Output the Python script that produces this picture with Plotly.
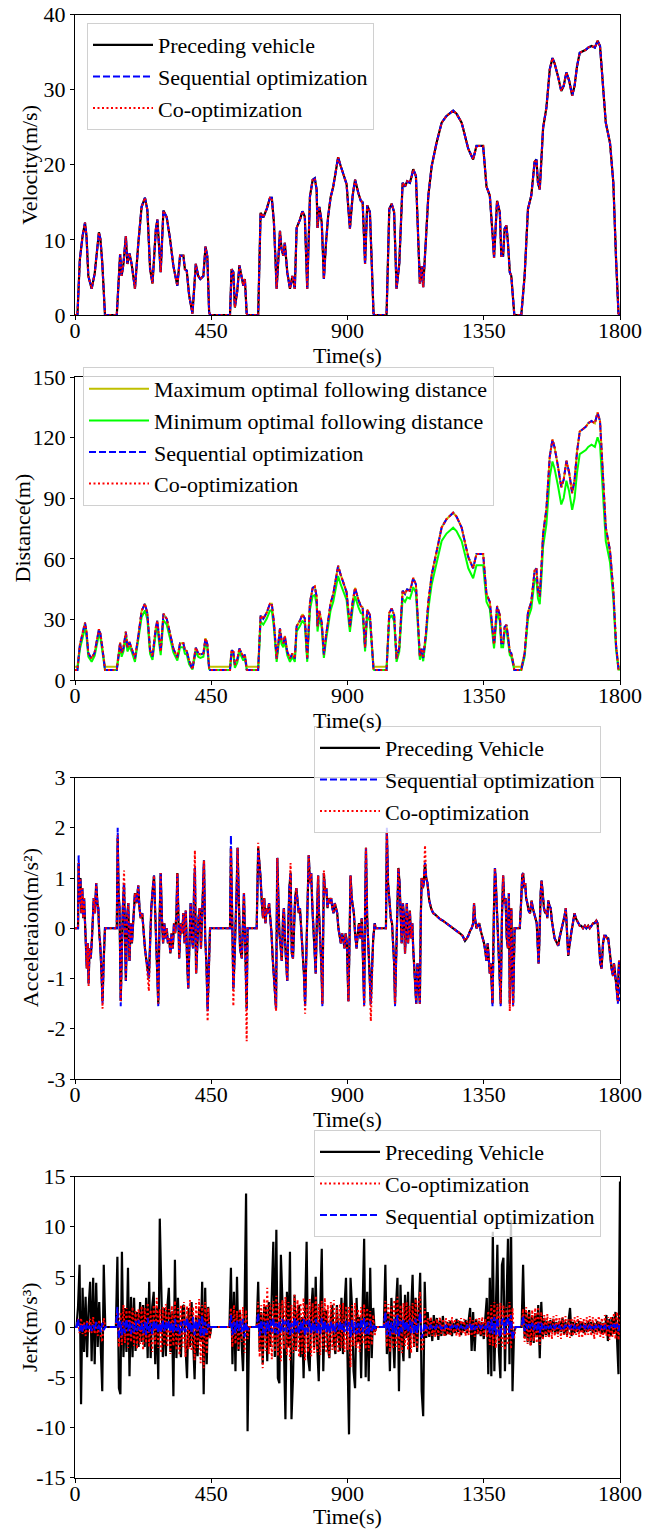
import plotly.graph_objects as go

FONT = "Liberation Serif"

# ---------------- Velocity / distance (shared time samples) ----------------
T_VEL = [0, 8, 16, 25, 33, 38, 44, 55, 65, 79,
         84, 90, 99, 138, 149, 154, 160, 168, 173, 180,
         187, 198, 209, 220, 231, 239, 248, 256, 267, 272,
         277, 283, 292, 303, 314, 325, 338, 347, 358, 363,
         369, 377, 388, 399, 407, 414, 424, 431, 437, 443,
         446, 512, 517, 523, 528, 536, 543, 551, 556, 561,
         567, 570, 605, 613, 622, 633, 644, 650, 657, 666,
         677, 682, 688, 693, 701, 710, 718, 726, 732, 743,
         751, 759, 767, 776, 785, 792, 798, 801, 807, 815,
         822, 829, 836, 844, 853, 860, 869, 877, 886, 897,
         906, 908, 917, 925, 936, 944, 950, 958, 965, 974,
         986, 988, 1029, 1038, 1046, 1054, 1062, 1071, 1082, 1090,
         1097, 1106, 1112, 1117, 1126, 1134, 1139, 1145, 1150, 1159,
         1167, 1178, 1194, 1211, 1227, 1249, 1260, 1277, 1288, 1299,
         1315, 1326, 1337, 1348, 1359, 1370, 1381, 1384, 1394, 1403,
         1408, 1414, 1419, 1425, 1430, 1436, 1441, 1449, 1451, 1474,
         1485, 1496, 1507, 1518, 1524, 1529, 1535, 1540, 1546, 1557,
         1568, 1577, 1584, 1595, 1606, 1614, 1623, 1632, 1642, 1650,
         1658, 1667, 1678, 1687, 1695, 1706, 1717, 1726, 1734, 1745,
         1753, 1767, 1778, 1787, 1795, 1800]

V_PRE = [0, 0, 7.4, 10.5, 12.3, 10.5, 5.2, 3.5, 5.5, 11.0,
         10.1, 7.0, 0, 0, 8.1, 5.2, 6.8, 10.5, 6.8, 8.2,
         6.8, 3.5, 9.5, 14.4, 15.6, 14.0, 6.1, 4.2, 11.4, 12.7,
         9.6, 5.7, 13.9, 13.0, 10.1, 6.5, 3.9, 7.9, 7.9, 6.1,
         5.9, 2.6, 0.2, 6.8, 5.2, 4.8, 5.2, 9.1, 7.8, 0.4,
         0, 0, 6.1, 5.7, 1.0, 3.2, 6.6, 5.2, 3.9, 4.8,
         0.2, 0, 0, 13.6, 13.0, 14.1, 15.6, 15.6, 12.3, 3.5,
         11.2, 8.8, 7.9, 9.6, 5.7, 3.5, 5.2, 3.5, 11.6, 12.7,
         13.8, 13.1, 3.5, 15.8, 18.0, 18.2, 16.7, 11.6, 14.4, 12.3,
         4.8, 9.6, 13.1, 15.6, 17.1, 18.8, 21.0, 19.9, 18.8, 17.4,
         12.5, 11.5, 15.9, 18.0, 16.2, 15.2, 15.0, 6.8, 14.6, 13.7,
         0.2, 0, 0, 14.1, 14.8, 13.7, 3.5, 6.8, 17.6, 17.1,
         17.8, 17.6, 18.5, 19.4, 18.5, 9.6, 4.2, 6.5, 3.7, 10.1,
         15.9, 19.8, 22.9, 25.6, 26.5, 27.2, 26.8, 25.6, 23.9, 22.1,
         20.7, 22.5, 22.5, 22.5, 17.1, 15.9, 9.6, 7.6, 15.2, 13.7,
         7.9, 7.9, 11.5, 11.9, 9.6, 5.7, 5.2, 0.2, 0, 0,
         5.2, 14.1, 15.9, 20.4, 20.7, 17.6, 16.7, 20.4, 24.9, 27.6,
         32.7, 34.2, 33.5, 31.8, 29.8, 30.5, 32.3, 31.2, 29.2, 30.5,
         33.1, 34.9, 35.1, 35.3, 35.6, 35.8, 35.6, 36.5, 35.8, 30.5,
         25.6, 22.9, 17.6, 7.4, 0.2, 0]
# the two follower speed traces are read as coincident with the leader trace
V_SEQ = V_PRE
V_CO = V_PRE

D_MAX = [6.5, 6.5, 17.2, 23.9, 28.4, 23.9, 13.2, 10.6, 13.7, 25.1,
         22.9, 16.4, 6.5, 6.5, 18.5, 13.2, 16.0, 23.9, 16.0, 18.8,
         16.0, 10.6, 21.6, 34.2, 37.8, 33.0, 14.7, 11.6, 26.1, 29.4,
         21.8, 14.0, 32.8, 30.3, 22.9, 15.5, 11.2, 18.2, 18.2, 14.7,
         14.4, 9.4, 6.7, 16.0, 13.2, 12.6, 13.2, 20.7, 17.9, 6.9,
         6.5, 6.5, 14.7, 14.0, 7.5, 10.2, 15.6, 13.2, 11.2, 12.6,
         6.7, 6.5, 6.5, 31.9, 30.3, 33.3, 37.8, 37.8, 28.4, 10.6,
         25.6, 20.0, 18.2, 21.8, 14.0, 10.6, 13.2, 10.6, 26.6, 29.4,
         32.5, 30.5, 10.6, 38.4, 45.6, 46.3, 41.3, 26.6, 34.2, 28.4,
         12.6, 21.8, 30.5, 37.8, 42.6, 48.4, 56.5, 52.3, 48.4, 43.5,
         28.9, 26.3, 38.7, 45.6, 39.7, 36.6, 36.0, 16.0, 34.8, 32.2,
         6.7, 6.5, 6.5, 33.3, 35.4, 32.2, 10.6, 16.0, 44.2, 42.6,
         44.9, 44.2, 47.3, 50.5, 47.3, 21.8, 11.6, 15.5, 10.9, 22.9,
         38.7, 52.0, 64.0, 75.5, 79.6, 82.8, 80.9, 75.5, 68.1, 60.8,
         55.3, 62.4, 62.4, 62.4, 42.6, 38.7, 21.8, 17.6, 36.6, 32.2,
         18.2, 18.2, 26.3, 27.3, 21.8, 14.0, 13.2, 6.7, 6.5, 6.5,
         13.2, 33.3, 38.7, 54.2, 55.3, 44.2, 41.3, 54.2, 72.4, 84.7,
         110.7, 119.0, 115.1, 105.9, 95.5, 99.1, 108.5, 102.7, 92.5, 99.1,
         112.9, 123.0, 124.2, 125.3, 127.1, 128.2, 127.1, 132.4, 128.2, 99.1,
         75.5, 64.0, 44.2, 17.2, 6.7, 6.5]

D_MIN = [5, 5, 15.2, 21.5, 25.7, 21.5, 11.5, 9.0, 12.0, 22.6,
         20.6, 14.5, 5, 5, 16.5, 11.5, 14.1, 21.5, 14.1, 16.7,
         14.1, 9.0, 19.3, 31.0, 34.4, 30.0, 13.0, 10.0, 23.5, 26.7,
         19.5, 12.3, 29.7, 27.4, 20.6, 13.6, 9.6, 16.2, 16.2, 13.0,
         12.6, 7.8, 5.2, 14.1, 11.5, 10.9, 11.5, 18.5, 15.9, 5.4,
         5, 5, 13.0, 12.3, 6.0, 8.6, 13.8, 11.5, 9.6, 10.9,
         5.2, 5, 5, 28.9, 27.4, 30.3, 34.4, 34.4, 25.7, 9.0,
         23.1, 17.9, 16.2, 19.5, 12.3, 9.0, 11.5, 9.0, 24.0, 26.7,
         29.4, 27.6, 9.0, 34.9, 41.5, 42.1, 37.5, 24.0, 31.0, 25.7,
         10.9, 19.5, 27.6, 34.4, 38.7, 44.0, 51.4, 47.6, 44.0, 39.6,
         26.2, 23.8, 35.2, 41.5, 36.1, 33.2, 32.7, 14.1, 31.6, 29.2,
         5.2, 5, 5, 30.3, 32.1, 29.2, 9.0, 14.1, 40.3, 38.7,
         40.9, 40.3, 43.1, 46.0, 43.1, 19.5, 10.0, 13.6, 9.3, 20.6,
         35.2, 47.3, 58.3, 68.8, 72.5, 75.4, 73.7, 68.8, 62.1, 55.3,
         50.4, 56.8, 56.8, 56.8, 38.7, 35.2, 19.5, 15.6, 33.2, 29.2,
         16.2, 16.2, 23.8, 24.7, 19.5, 12.3, 11.5, 5.2, 5, 5,
         11.5, 30.3, 35.2, 49.4, 50.4, 40.3, 37.5, 49.4, 66.0, 77.1,
         100.6, 108.2, 104.6, 96.3, 86.9, 90.1, 98.7, 93.4, 84.2, 90.1,
         102.6, 111.8, 112.8, 113.8, 115.4, 116.5, 115.4, 120.2, 116.5, 90.1,
         68.8, 58.3, 40.3, 15.2, 5.2, 5]

# follower gap equals the maximum optimal distance except at standstill
D_FOLLOW_STOPS = {0: 5, 8: 5, 99: 5, 138: 5, 388: 5.2, 443: 5.4, 446: 5, 512: 5,
                  567: 5.2, 570: 5, 605: 5, 986: 5.2, 988: 5, 1029: 5, 1449: 5.2,
                  1451: 5, 1474: 5, 1795: 5.2, 1800: 5}

# ---------------- Acceleration (time, value) ----------------
ACC_PRE = [(0,0),(10,0),(12,1.3),(15,0.5),(18,1.0),(21,0.3),(24,0.8),(27,0.2),(30,0.6),(33,0.0),
 (36,-0.5),(39,-0.8),(42,-0.3),(45,-1.1),(48,-0.4),(52,-0.6),(56,-0.2),(59,0.2),(62,0.6),(66,0.3),
 (70,0.9),(74,0.5),(77,0.4),(80,-0.1),(83,-0.3),(87,-0.8),(91,-1.45),(95,-0.6),(99,0),(138,0),
 (141,1.8),(144,0.7),(147,0.4),(151,-1.45),(155,0.1),(158,0.4),(162,0.9),(165,-0.3),(168,-1.05),(172,0.2),
 (176,0.5),(180,-0.65),(184,0.1),(188,-0.3),(192,0.2),(198,0.7),(203,0.5),(209,0.85),(213,0.4),(217,0.2),
 (222,0.3),(226,-0.1),(231,-0.4),(235,-0.6),(240,-0.9),(244,-1.0),(248,-0.3),(252,0.4),(257,0.8),(261,1.05),
 (265,0.3),(270,-0.6),(275,-1.5),(279,0.1),(283,1.1),(287,0.2),(291,-0.3),(295,0.1),(299,-0.2),(303,0.0),
 (307,-0.3),(311,-0.2),(315,-0.5),(319,-0.1),(323,-0.4),(327,0.1),(331,-0.1),(335,0.3),(338,1.1),(341,0.4),
 (344,-0.6),(347,-0.2),(350,0.1),(354,-0.1),(358,0.3),(362,-0.3),(366,0.35),(370,-0.6),(374,-1.2),(378,-0.3),
 (382,0.5),(386,-0.2),(390,-0.4),(393,0.7),(396,1.2),(400,-0.9),(404,-0.3),(408,0.2),(412,0.4),(416,-0.4),
 (420,0.3),(423,0.8),(426,1.35),(430,-0.2),(434,-0.7),(438,-1.6),(442,-0.8),(446,0),(512,0),(515,1.6),
 (519,0.3),(523,-1.2),(527,-0.6),(531,0.1),(534,0.8),(537,1.6),(541,0.3),(545,-0.4),(551,-0.6),(555,0.2),
 (558,0.7),(562,-0.3),(567,-1.6),(570,0),(600,0),(605,1.6),(609,1.3),(613,1.0),(617,0.5),(621,0.2),
 (625,0.6),(629,0.1),(633,0.4),(637,0.3),(641,0.5),(645,0.2),(649,-0.1),(653,-0.6),(657,-1.05),(661,-1.4),
 (664,-1.6),(668,1.4),(672,0.6),(675,-0.1),(679,-0.35),(683,-0.65),(687,0.2),(690,0.4),(694,-0.3),(697,-0.7),
 (701,-1.05),(705,0.2),(708,0.8),(712,1.1),(716,-0.5),(720,-0.6),(724,0.3),(727,0.6),(731,0.8),(735,0.5),
 (739,0.3),(743,0.4),(747,0.0),(752,-0.4),(756,-0.9),(760,-1.5),(764,-0.3),(768,0.5),(772,1.45),(776,0.9),
 (780,1.1),(784,0.4),(787,0.1),(791,-0.3),(795,-0.9),(799,0.2),(803,1.05),(806,0.3),(810,-0.2),(814,-0.8),
 (817,-1.5),(820,0.2),(822,1.1),(826,0.7),(830,0.8),(834,0.4),(838,0.6),(842,0.5),(846,0.6),(850,0.4),
 (854,0.3),(858,0.5),(862,0.4),(866,0.3),(870,0.0),(874,-0.2),(878,-0.3),(882,-0.1),(886,-0.2),(890,-0.4),
 (894,-0.1),(898,-0.3),(903,-1.45),(906,-0.5),(910,1.05),(914,0.6),(917,0.5),(921,0.3),(925,-0.1),(930,-0.4),
 (934,-0.1),(938,0.1),(943,-0.2),(947,0.2),(951,-0.6),(955,-1.5),(958,0.3),(961,1.6),(965,0.2),(969,-0.3),
 (973,-0.9),(977,-1.5),(981,-0.8),(985,-0.2),(990,0.1),(993,0),(1027,0),(1030,1.9),(1034,0.9),(1038,0.6),
 (1043,0.2),(1047,0.1),(1051,-0.3),(1054,-0.7),(1057,-1.5),(1061,-0.6),(1064,0.4),(1068,1.2),(1072,0.9),(1075,0.3),
 (1079,-0.3),(1083,0.5),(1087,0.2),(1090,-0.5),(1093,0.1),(1096,0.5),(1100,-0.3),(1103,0.2),(1106,0.35),(1110,-0.2),
 (1114,0.1),(1117,-0.4),(1120,-0.7),(1124,-1.0),(1127,-1.5),(1131,-0.7),(1134,-1.0),(1139,-1.5),(1142,0.2),(1145,1.0),
 (1149,0.8),(1152,0.9),(1156,1.3),(1160,1.0),(1164,0.9),(1170,0.55),(1176,0.4),(1183,0.3),(1190,0.27),(1198,0.22),
 (1206,0.18),(1215,0.15),(1227,0.1),(1238,0.05),(1249,0.0),(1260,-0.05),(1271,-0.1),(1280,-0.15),(1288,-0.25),(1294,-0.2),
 (1299,-0.15),(1305,-0.05),(1310,0.0),(1315,0.1),(1318,0.5),(1321,0.2),(1326,0.0),(1330,0.05),(1335,0.1),(1340,-0.05),
 (1345,-0.15),(1351,-0.3),(1355,-0.45),(1359,-0.65),(1363,-0.3),(1366,-0.5),(1370,-0.9),(1373,-0.7),(1376,-1.0),(1379,-1.5),
 (1383,0.2),(1387,1.2),(1390,0.9),(1392,0.6),(1396,-0.2),(1400,-0.6),(1403,-1.0),(1406,-1.5),(1410,0.2),(1414,1.05),
 (1418,0.5),(1422,0.6),(1426,-0.2),(1430,-0.4),(1433,0.7),(1436,-1.5),(1439,-0.3),(1441,0.4),(1444,-0.7),(1447,-1.5),
 (1452,0),(1469,0),(1474,0.6),(1477,1.05),(1480,1.1),(1484,0.8),(1487,0.9),(1490,0.6),(1494,0.5),(1498,0.35),
 (1503,0.3),(1508,0.55),(1512,0.4),(1516,0.3),(1520,0.2),(1525,0.1),(1528,-0.3),(1531,-0.7),(1533,-0.4),(1535,0.4),
 (1538,0.7),(1541,0.95),(1545,0.6),(1549,0.4),(1553,0.3),(1557,0.35),(1560,0.2),(1563,0.55),(1567,0.45),(1571,0.4),
 (1575,0.15),(1580,-0.1),(1584,-0.2),(1588,-0.25),(1592,-0.3),(1596,-0.35),(1600,-0.2),(1604,-0.1),(1608,0.05),(1613,0.15),
 (1617,0.25),(1621,0.4),(1625,-0.1),(1629,-0.55),(1632,-0.4),(1636,-0.15),(1640,-0.05),(1643,0.05),(1647,0.2),(1650,0.3),
 (1654,0.2),(1658,0.15),(1663,0.1),(1667,0.05),(1672,0.05),(1678,0.0),(1684,0.05),(1689,0.0),(1695,0.05),(1700,0.0),
 (1706,0.05),(1711,0.1),(1716,0.1),(1722,0.15),(1726,0.1),(1729,-0.2),(1731,-0.5),(1735,-0.7),(1739,-0.8),(1742,-0.5),
 (1744,-0.3),(1748,-0.15),(1753,-0.15),(1757,-0.2),(1761,-0.2),(1765,-0.4),(1768,-0.65),(1772,-0.8),(1777,-0.95),(1780,-0.7),
 (1782,-0.8),(1785,-1.0),(1788,-1.2),(1791,-1.35),(1793,-1.45),(1795,-0.9),(1797,-0.65),(1800,-0.7)]

# followers track the leader except where their peaks were read differently
ACC_SEQ_PEAKS = {12: 1.45, 91: -1.5, 141: 2.0, 151: -1.55, 275: -1.55, 438: -1.65, 515: 1.85,
                 605: 1.55, 664: -1.6, 760: -1.55, 817: -1.55, 955: -1.55, 1030: 2.0, 1057: -1.55,
                 1379: -1.55, 1406: -1.55, 1447: -1.55, 1793: -1.5, 1800: -1.45}
ACC_CO_PEAKS = {45: -1.15, 91: -1.6, 141: 1.85, 162: 1.15, 244: -1.25, 396: 1.55, 438: -1.85,
                523: -1.55, 567: -2.25, 605: 1.7, 664: -1.65, 712: 1.3, 760: -1.7, 822: 1.15,
                955: -1.55, 977: -1.85, 1030: 1.9, 1156: 1.65, 1436: -1.65, 1447: -1.55}

# ---------------- Jerk (one value every 5 s, 0..1800 s) ----------------
J_PRE = [0, 0, 2, 6.2, -7.7, 3.9, -2.5, 3.0, -3.0, 2.0, 4.5, -3.4, 4.9, -3.7, 4.4, -2.0, 2.5, -3.0, -6.4, 6.2,
         0, 0, 0, 0, 0, 0, 0, 0, 7.0, -6.1, -6.7, 7.5, -3.0, 1.9, -2.5, 5.9, -4.9, 3.0, -3.0, 2.9,
         -2.4, 1.5, -2.0, 2.5, -1.5, 2.2, -2.0, 2.9, -3.1, 4.5, -3.1, 2.0, 3.5, -3.7, 2.0, -5.2, 10.8, 4.0, -3.0, 1.9,
         -2.9, 2.0, 3.9, -2.5, 1.5, -6.9, 6.7, -3.1, 2.9, -1.5, -3.0, 2.0, 2.2, -2.0, -5.1, 1.9, -2.0, 2.5, -1.0, -5.2,
         1.0, -2.9, 2.0, -1.5, 4.5, -6.7, 3.9, -3.7, 2.0, -1.0, 0, 0, 0, 0, 0, 0, 0, 0, 0, 0,
         0, 0, 0, 5.9, -3.7, 3.5, -4.4, 5.0, -2.4, 1.5, -2.0, -4.4, 2.0, 13.3, -10.4, 0, 0, 0, 0, 0,
         0, 4.5, -2.4, 1.5, -3.7, 2.0, 1.9, -3.4, 2.5, -2.0, 3.0, 8.5, -3.0, 9.7, -5.1, -5.6, 7.2, 3.5, -2.0, -9.2,
         3.5, -2.0, 7.5, -9.2, -5.1, 3.2, -2.4, 1.5, 2.2, -3.0, 1.0, -5.1, 2.5, 8.5, -3.1, -4.4, 1.5, 3.9, -2.0, 5.0,
         -2.0, -5.4, 2.0, 7.8, -4.4, 1.5, 1.6, -2.0, -3.1, 1.0, 2.2, -1.5, -2.7, 2.2, -1.0, -2.4, 2.9, -2.7, 2.0, 4.9,
         -3.0, -10.7, 4.9, 2.0, -4.4, -6.1, 2.9, -1.5, 1.0, -5.1, 2.2, 8.8, -5.0, 3.5, -5.4, 5.9, -3.1, 1.9, -0.5, 0,
         0, 0, 0, 0, 0, 6.2, -2.7, 1.5, -4.4, 2.9, -1.5, -4.1, 2.0, 4.9, -6.4, 4.2, -1.5, -3.4, 3.2, -1.1,
         3.5, -3.1, 1.5, 5.2, -2.0, 2.9, -2.5, 1.0, 5.4, -6.4, -8.9, 4.5, -1.1, 1.5, -1.0, 0.8, -1.4, 1.2, -0.8, 0.9,
         -1.3, 0.7, -0.9, 1.1, -0.6, -0.8, 0.5, -0.7, 0.6, -0.9, 0.4, -0.6, 0.8, -0.5, 0.6, -0.8, 0.5, -0.4, 0.7, -0.6,
         0.9, 1.9, -2.4, 1.5, -2.4, 0.8, -0.7, 0.6, -0.9, 0.5, -1.2, 1.0, 2.9, -4.7, 4.9, -4.9, 9.5, -4.4, 2.5, 8.2,
         -2.4, -5.1, 6.2, 6.9, -4.4, 3.2, 8.8, -3.7, 10.7, -6.4, -0.5, 0, 0, 0, 0, 0, 6.2, -1.1, 1.5, -1.5,
         1.7, -1.8, 1.2, -1.6, 1.4, -1.0, 2.2, -3.1, 2.5, -1.1, 0.9, -0.8, 0.6, -0.9, 0.7, -0.5, 0.8, -0.6, 0.5, -0.7,
         0.6, -0.5, 0.9, -0.7, 0.5, -0.8, 0.6, 1.9, -0.9, 0.5, -0.6, 0.4, -0.5, 0.6, -0.4, 0.5, -0.6, 0.4, -0.5, 0.6,
         -0.4, 0.5, -0.6, 0.4, -0.5, 0.6, -0.4, 0.5, -0.7, 0.4, -0.6, 1.2, -1.4, 0.8, -0.9, 1.0, -0.7, 1.5, -1.1, -4.7,
         14.5]

J_CO = [0, 0, 0.8, -0.6, 0.9, -0.7, 0.5, -0.9, 0.7, -0.5, 0.8, -0.6, 1.0, -0.7, 0.6, -0.9, 0.7, -0.8, -1.5, 0.9,
        0, 0, 0, 0, 0, 0, 0, 0, 1.8, -2.0, 1.5, -1.8, 2.2, -1.6, 1.9, -2.1, 1.7, -1.5, 2.0, -1.9,
        1.6, -2.2, 1.8, -1.7, 2.1, -2.3, 1.9, -1.6, 2.4, -2.0, 1.7, -2.5, 2.2, -1.8, 2.9, -2.1, 1.8, -2.6, 2.0, -1.9,
        2.3, -2.0, 1.8, -2.7, 2.1, -1.9, 2.6, -2.3, 1.9, -2.8, 2.2, -2.0, 2.5, -3.0, 2.1, -2.2, 2.7, -2.4, 2.0, -3.3,
        2.4, -2.1, 2.8, -3.6, 2.2, -4.1, 2.5, -2.7, 1.9, -1.2, 0, 0, 0, 0, 0, 0, 0, 0, 0, 0,
        0, 0, 0, 1.9, -2.0, 2.2, -1.7, 1.6, -2.3, 1.8, -1.5, 2.0, -2.6, 1.7, -1.2, 0, 0, 0, 0, 0,
        0, 2.5, -3.0, 2.2, -4.1, 2.8, -2.4, 3.9, -2.7, 2.3, -3.2, 2.6, -2.5, 3.1, -2.9, 2.4, -3.4, 2.7, -2.2, 3.0,
        -2.8, 2.5, -3.3, 2.2, -2.6, 3.2, -2.4, 2.7, -3.0, 2.4, -2.7, 2.9, -3.3, 2.3, -2.5, 2.8, -2.9, 2.4, -2.6, 3.1,
        -2.5, 2.3, -2.8, 2.6, -2.2, 2.9, -2.6, 2.2, -3.0, 2.5, -2.3, 2.7, -2.4, 2.0, -2.6, 2.3, -2.1, 2.4, -2.5, 2.1,
        -2.3, 2.0, -4.0, 2.2, -1.9, 2.4, -2.1, 1.8, -2.5, 2.0, -1.7, 2.3, -2.2, 1.9, -2.4, 1.6, -1.8, 1.2, -0.8, 0,
        0, 0, 0, 0, 0, 2.6, -2.0, 2.3, -2.5, 2.1, -2.2, 2.7, -2.0, 3.0, -2.4, 2.2, -2.6, 2.4, -1.9, 2.5,
        -2.3, 2.1, -2.6, 2.4, -2.0, 2.8, -2.2, 2.5, 3.5, -2.4, -2.1, 1.9, -1.0, 0.9, -0.8, 1.0, -0.9, 0.7, -1.0, 0.8,
        -0.9, 1.0, -0.7, 0.8, -1.0, 0.9, -0.8, 0.7, -0.9, 1.0, -0.6, 0.8, -0.9, 0.7, -1.0, 0.9, -0.7, 0.8, -0.9, 0.6,
        -0.8, 1.0, -0.9, 0.7, -1.0, 0.8, -0.7, 0.9, -0.8, 1.0, -0.9, 0.8, -1.0, 1.6, -1.8, 2.2, -1.9, 2.5, -2.1, 2.3,
        -1.7, 2.4, -2.0, 2.2, -2.3, 2.0, -1.8, 2.5, -2.2, 1.9, -1.2, 0, 0, 0, 0, 0, 1.8, -1.5, 2.0, -1.7,
        1.6, -1.9, 1.7, -1.4, 1.9, -1.6, 2.0, -1.8, 1.5, -1.3, 1.2, -1.0, 1.3, -1.1, 0.9, -1.2, 1.1, -0.9, 1.2, -1.0,
        0.9, -1.2, 1.0, -0.8, 1.1, -1.0, 0.8, -1.1, 0.9, -0.9, 1.0, -0.8, 1.1, -1.0, 0.9, -1.1, 0.8, -0.9, 1.0, -0.8,
        1.1, -0.9, 1.0, -1.2, 0.9, -0.8, 1.1, -1.0, 0.9, -1.1, 1.2, -0.9, 1.0, -1.3, 1.1, -1.0, 1.4, -1.2, 1.5, -1.3,
        1.2]

J_SEQ = [0, 0, 0.8, -0.4, 0.3, -0.5, 0.2, -0.3, 0.4, -0.2, 0.3, -0.4, 0.2, -0.3, 0.5, -0.2, 0.3, -0.5, 0.4, -0.3,
         0, 0, 0, 0, 0, 0, 0, 0, 2.0, -1.2, 0.6, -0.8, 0.5, -0.6, 0.8, -0.4, 0.5, -0.7, 0.3, -0.5,
         0.6, -0.4, 0.7, -0.3, 0.4, -0.6, 0.5, -0.8, 0.9, -0.5, 0.4, -0.7, 0.6, -0.3, 0.5, -0.6, 0.4, -0.5, 0.7, -0.4,
         0.5, -0.3, 0.6, -0.5, 0.4, -0.6, 0.8, -0.4, 0.3, -0.7, 0.5, -0.4, 0.6, -0.5, 0.9, -0.3, 0.5, -0.6, 1.0, -0.8,
         0.6, -0.4, 0.8, -0.9, 1.1, -1.0, 0.5, -0.6, 0.3, -0.2, 0, 0, 0, 0, 0, 0, 0, 0, 0, 0,
         0, 0, 0, 1.2, -0.8, 0.5, -0.6, 0.7, -0.4, 0.6, -0.5, 0.8, -1.0, 0.4, -0.3, 0, 0, 0, 0, 0,
         0, 1.4, -0.9, 0.7, -0.6, 0.5, -0.8, 0.6, -0.4, 0.7, -0.5, 0.9, -0.6, 0.4, -0.7, 0.5, -0.6, 0.8, -0.4, 0.6,
         -0.5, 0.7, -0.8, 0.4, -0.6, 0.9, -0.5, 0.6, -0.7, 0.5, -0.4, 0.8, -0.9, 0.6, -0.5, 0.7, -0.6, 0.4, -0.5, 0.8,
         -0.6, 0.5, -0.7, 0.9, -0.4, 0.6, -0.5, 0.4, -0.6, 0.5, -0.4, 0.3, -0.5, 0.4, -0.3, 0.5, -0.4, 0.3, -0.5, 0.6,
         -0.4, 0.5, -1.0, 0.7, -0.6, 0.5, -0.7, 0.4, -0.6, 0.8, -0.5, 0.9, -0.7, 0.5, -0.8, 0.6, -0.4, 0.3, -0.2, 0,
         0, 0, 0, 0, 0, 1.5, -0.8, 0.6, -0.9, 0.5, -0.6, 0.8, -0.7, 1.2, -1.0, 0.6, -0.5, 0.7, -0.4, 0.6,
         -0.5, 0.7, -0.6, 0.5, -0.7, 0.8, -0.6, 0.5, 1.4, -1.1, -0.6, 0.4, -0.2, 0.1, -0.1, 0.2, -0.1, 0.1, -0.2, 0.1,
         -0.1, 0.1, -0.2, 0.1, -0.1, 0.2, -0.1, 0.1, -0.1, 0.1, -0.2, 0.1, -0.1, 0.2, -0.1, 0.1, -0.1, 0.1, -0.2, 0.1,
         -0.1, 0.3, -0.4, 0.2, -0.3, 0.1, -0.1, 0.2, -0.1, 0.1, -0.2, 0.1, -0.3, 0.5, -0.6, 0.8, -0.7, 1.0, -0.8, 0.9,
         -0.6, -1.0, 0.7, 0.8, -0.7, 0.6, 1.0, -0.6, 1.2, -1.3, -0.3, 0, 0, 0, 0, 0, 1.1, -0.4, 0.3, -0.2,
         0.3, -0.2, 0.4, -0.3, 0.2, -0.3, 0.5, -0.6, 0.4, -0.2, 0.1, -0.2, 0.2, -0.1, 0.1, -0.2, 0.1, -0.1, 0.2, -0.1,
         0.1, -0.2, 0.1, -0.1, 0.2, -0.1, 0.1, -0.1, 0.2, -0.2, 0.1, -0.1, 0.1, -0.2, 0.1, -0.1, 0.1, -0.1, 0.2, -0.1,
         0.1, -0.1, 0.2, -0.1, 0.1, -0.2, 0.1, -0.1, 0.2, -0.1, 0.1, -0.2, 0.1, -0.1, 0.2, -0.1, 0.3, -0.2, 0.3, -0.4,
         0.2]
T_JERK = list(range(0, 1801, 5))

X_TICKS = [0, 450, 900, 1350, 1800]
Y1_TICKS = [0, 10, 20, 30, 40]
Y2_TICKS = [0, 30, 60, 90, 120, 150]
Y3_TICKS = [-3, -2, -1, 0, 1, 2, 3]
Y4_TICKS = [-15, -10, -5, 0, 5, 10, 15]

# ---------------- derived series for traces ----------------
T_ACC = [p[0] for p in ACC_PRE]
A_PRE = [p[1] for p in ACC_PRE]
A_SEQ = [ACC_SEQ_PEAKS.get(t, a) for t, a in ACC_PRE]
A_CO = [ACC_CO_PEAKS.get(t, a) for t, a in ACC_PRE]
D_SEQ = [D_FOLLOW_STOPS.get(t, d) for t, d in zip(T_VEL, D_MAX)]
D_CO = D_SEQ

BLACK = dict(color="black", width=2.2)
BLUE = dict(color="#0000ff", width=2, dash="7px,3px")
RED = dict(color="#ff0000", width=2, dash="2px,2.5px")
YEL = dict(color="#bfbf00", width=2)
GRN = dict(color="#00ff00", width=2)

fig = go.Figure()


def add(x, y, name, line, ax, leg):
    n = min(len(x), len(y))
    fig.add_trace(go.Scatter(x=x[:n], y=y[:n], name=name, mode="lines", line=line,
                             xaxis="x" + ax, yaxis="y" + ax, legend=leg, hoverinfo="skip"))


add(T_VEL, V_PRE, "Preceding vehicle", BLACK, "", "legend")
add(T_VEL, V_SEQ, "Sequential optimization", BLUE, "", "legend")
add(T_VEL, V_CO, "Co-optimization", RED, "", "legend")

add(T_VEL, D_MAX, "Maximum optimal following distance", YEL, "2", "legend2")
add(T_VEL, D_MIN, "Minimum optimal following distance", GRN, "2", "legend2")
add(T_VEL, D_SEQ, "Sequential optimization", BLUE, "2", "legend2")
add(T_VEL, D_CO, "Co-optimization", RED, "2", "legend2")

add(T_ACC, A_PRE, "Preceding Vehicle", BLACK, "3", "legend3")
add(T_ACC, A_SEQ, "Sequential optimization", BLUE, "3", "legend3")
add(T_ACC, A_CO, "Co-optimization", RED, "3", "legend3")

add(T_JERK, J_PRE, "Preceding Vehicle", BLACK, "4", "legend4")
add(T_JERK, J_CO, "Co-optimization", RED, "4", "legend4")
add(T_JERK, J_SEQ, "Sequential optimization", BLUE, "4", "legend4")

W, H = 666, 1529


def px_x(x):
    return x / W


def px_y(y):
    return 1 - y / H


XDOM = [px_x(75), px_x(620)]
TICKFONT = dict(family=FONT, size=22, color="black")
common = dict(showline=True, linecolor="black", linewidth=1, mirror=True, ticks="outside",
              ticklen=4, tickwidth=1, tickcolor="black", showgrid=False, zeroline=False,
              tickfont=TICKFONT, automargin=False, ticklabeloverflow="allow")

doms = [(14.5, 315), (377, 680), (777.5, 1079), (1176.5, 1477.5)]
ytitles = ["Velocity(m/s)", "Distance(m)", "Acceleraion(m/s\u00b2)", "Jerk(m/s\u00b3)"]
ytitle_x = [30, 22, 30, 29]
yticks = [Y1_TICKS, Y2_TICKS, Y3_TICKS, Y4_TICKS]

layout = dict(width=W, height=H, margin=dict(l=0, r=0, t=0, b=0, autoexpand=False),
              paper_bgcolor="white", plot_bgcolor="white",
              font=dict(family=FONT, size=22, color="black"))

annotations = []
for i in range(4):
    s = "" if i == 0 else str(i + 1)
    tv = yticks[i]
    top, bot = doms[i]
    layout["xaxis" + s] = dict(common, domain=XDOM, anchor="y" + s, range=[0, 1800],
                               tickvals=X_TICKS, ticktext=[str(v) for v in X_TICKS],
                               ticklabelstandoff=-8,
                               title=dict(text="Time(s)", font=TICKFONT, standoff=0))
    layout["yaxis" + s] = dict(common, domain=[px_y(bot), px_y(top)], anchor="x" + s,
                               range=[tv[0], tv[-1]], tickvals=tv,
                               ticktext=[str(v) for v in tv])
    annotations.append(dict(text=ytitles[i], textangle=-90, xref="paper", yref="paper",
                            x=px_x(ytitle_x[i]), y=px_y((top + bot) / 2),
                            xanchor="center", yanchor="middle", showarrow=False,
                            font=TICKFONT))
layout["annotations"] = annotations

LEG = dict(bgcolor="rgba(255,255,255,0.8)", bordercolor="#d0d0d0", borderwidth=1,
           font=dict(family=FONT, size=22, color="black"), xanchor="left", yanchor="top",
           itemwidth=60, tracegroupgap=0)
layout["legend"] = dict(LEG, x=px_x(87), y=px_y(23))
layout["legend2"] = dict(LEG, x=px_x(83), y=px_y(367))
layout["legend3"] = dict(LEG, x=px_x(314), y=px_y(726))
layout["legend4"] = dict(LEG, x=px_x(314), y=px_y(1130))

fig.update_layout(**layout)
# remove the browser's default 8 px body margin so the figure fills the window
fig.write_html("out.html", config={"displayModeBar": False},
               post_script="document.body.style.margin='0';")
